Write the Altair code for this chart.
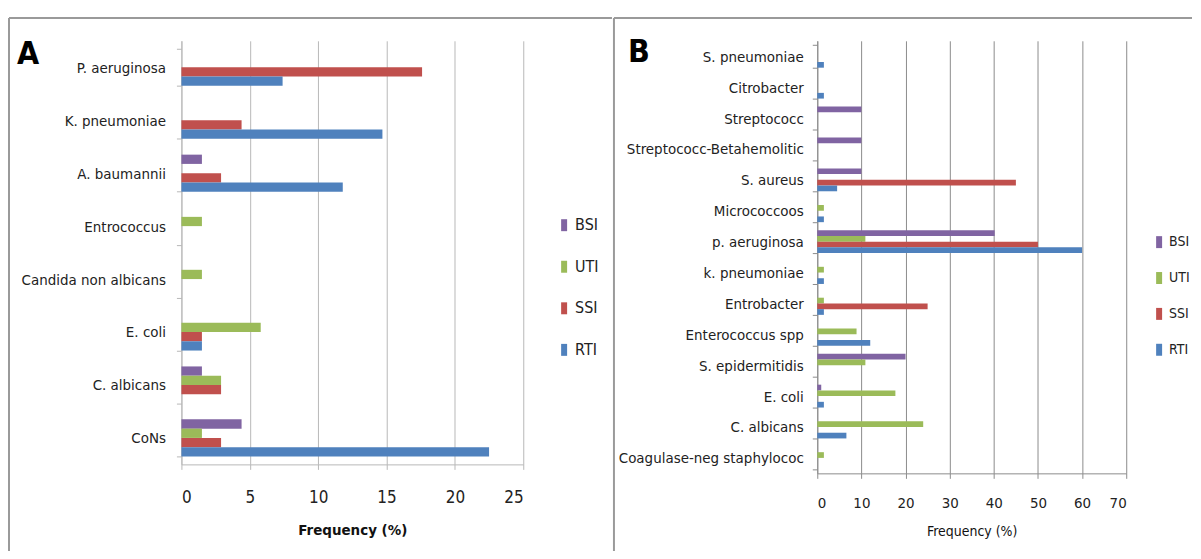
import altair as alt
import pandas as pd

SERIES = ["BSI", "UTI", "SSI", "RTI"]
COLORS = ["#8064A2", "#9BBB59", "#C0504D", "#4F81BD"]

# Panel A
A_CATS = ["P. aeruginosa", "K. pneumoniae", "A. baumannii", "Entrococcus",
          "Candida non albicans", "E. coli", "C. albicans", "CoNs"]
A_BSI = [0, 0, 1.5, 0, 0, 0, 1.5, 4.4]
A_UTI = [0, 0, 0, 1.5, 1.5, 5.8, 2.9, 1.5]
A_SSI = [17.6, 4.4, 2.9, 0, 0, 1.5, 2.9, 2.9]
A_RTI = [7.4, 14.7, 11.8, 0, 0, 1.5, 0, 22.5]
A_TICKS = [0, 5, 10, 15, 20, 25]

# Panel B
B_CATS = ["S. pneumoniae", "Citrobacter", "Streptococc", "Streptococc-Betahemolitic",
          "S. aureus", "Micrococcoos", "p. aeruginosa", "k. pneumoniae", "Entrobacter",
          "Enterococcus spp", "S. epidermitidis", "E. coli", "C. albicans",
          "Coagulase-neg staphylococ"]
B_BSI = [0, 0, 10, 10, 10, 0, 40.2, 0, 0, 0, 20, 0.9, 0, 0]
B_UTI = [0, 0, 0, 0, 0, 1.5, 10.9, 1.5, 1.5, 8.9, 10.9, 17.7, 24, 1.5]
B_SSI = [0, 0, 0, 0, 45, 0, 50, 0, 25, 0, 0, 0, 0, 0]
B_RTI = [1.5, 1.5, 0, 0, 4.5, 1.5, 60, 1.5, 1.5, 12, 0, 1.5, 6.6, 0]
B_TICKS = [0, 10, 20, 30, 40, 50, 60, 70]

FONT = "DejaVu Sans Condensed, DejaVu Sans"
FRAME = "#9a9a9a"


def to_long(cats, series_vals):
    rows = []
    for s, vals in zip(SERIES, series_vals):
        for c, v in zip(cats, vals):
            if v > 0:
                rows.append({"organism": c, "type": s, "value": v})
    return pd.DataFrame(rows)


def panel(df, cats, ticks, width, height, frame, letter, lab_fs, tick_fs,
          title_fs, title_weight, grid_color, pad_inner, x_lab_pad, x_title_pad,
          y_lab_pad, leg):
    left, top, right, bottom = frame
    bars = alt.Chart(df).mark_bar().encode(
        x=alt.X("value:Q",
                scale=alt.Scale(domain=[ticks[0], ticks[-1]], nice=False),
                axis=alt.Axis(values=ticks, title="Frequency (%)", grid=True,
                              gridColor=grid_color, gridWidth=1,
                              domainColor=grid_color, tickColor=grid_color,
                              tickSize=5, labelFontSize=tick_fs,
                              labelColor="#222222", labelPadding=x_lab_pad,
                              titleFontSize=title_fs, titleFontWeight=title_weight,
                              titleColor="#111111", titlePadding=x_title_pad)),
        y=alt.Y("organism:N", sort=cats,
                scale=alt.Scale(domain=cats, paddingInner=pad_inner,
                                paddingOuter=pad_inner / 2),
                axis=alt.Axis(title=None, grid=False, tickBand="extent",
                              domainColor=grid_color, tickColor=grid_color,
                              tickSize=5, labelFontSize=lab_fs,
                              labelColor="#222222", labelPadding=y_lab_pad,
                              labelLimit=300)),
        yOffset=alt.YOffset("type:N", sort=SERIES,
                            scale=alt.Scale(domain=SERIES, paddingInner=0,
                                            paddingOuter=0)),
        color=alt.Color("type:N",
                        scale=alt.Scale(domain=SERIES, range=COLORS),
                        legend=alt.Legend(title=None, orient="none",
                                          legendX=leg[0], legendY=leg[1],
                                          symbolType="M-0.5,-1H0.5V1H-0.5Z",
                                          symbolSize=144, symbolStrokeWidth=0,
                                          labelFontSize=leg[3],
                                          labelColor="#222222",
                                          rowPadding=leg[2], labelOffset=3)),
    )
    one = pd.DataFrame({"k": [0]})
    top_rule = alt.Chart(one).mark_rule(color=FRAME, strokeWidth=2).encode(
        x=alt.value(left), x2=alt.value(right), y=alt.value(top))
    left_rule = alt.Chart(one).mark_rule(color=FRAME, strokeWidth=2).encode(
        x=alt.value(left), y=alt.value(top), y2=alt.value(bottom))
    txt = alt.Chart(one).mark_text(text=letter[0], fontSize=32, fontWeight="bold",
                                   align="left", baseline="middle",
                                   font=FONT, color="#000000").encode(
        x=alt.value(letter[1]), y=alt.value(letter[2]))
    return alt.layer(top_rule, left_rule, bars, txt).properties(width=width, height=height)


dfA = to_long(A_CATS, [A_BSI, A_UTI, A_SSI, A_RTI])
dfB = to_long(B_CATS, [B_BSI, B_UTI, B_SSI, B_RTI])

chartA = panel(dfA, A_CATS, A_TICKS, 343, 425,
               frame=(-173, -23, 432, 512), letter=("A", -165, 13),
               lab_fs=15, tick_fs=17, title_fs=15, title_weight="bold",
               grid_color="#b8b8b8", pad_inner=0.3, x_lab_pad=20,
               x_title_pad=17, y_lab_pad=11, leg=(376, 177, 25.7, 16))

chartB = panel(dfB, B_CATS, B_TICKS, 310, 434,
               frame=(-204, -23, 376, 512), letter=("B", -190, 11),
               lab_fs=15, tick_fs=15, title_fs=14, title_weight="normal",
               grid_color="#8c8c8c", pad_inner=0.26, x_lab_pad=17,
               x_title_pad=14, y_lab_pad=9, leg=(336, 195, 22, 14))

chart = alt.hconcat(chartA, chartB, spacing=0).resolve_scale(
    x="independent", y="independent", color="independent", yOffset="independent"
).resolve_legend(color="independent").properties(
    padding={"left": 0, "top": 8, "right": 0, "bottom": 0}
).configure_view(stroke=None).configure_axis(
    labelFont=FONT, titleFont=FONT
).configure_legend(labelFont=FONT)

chart.save("out.html", embed_options={"renderer": "svg", "actions": False})
